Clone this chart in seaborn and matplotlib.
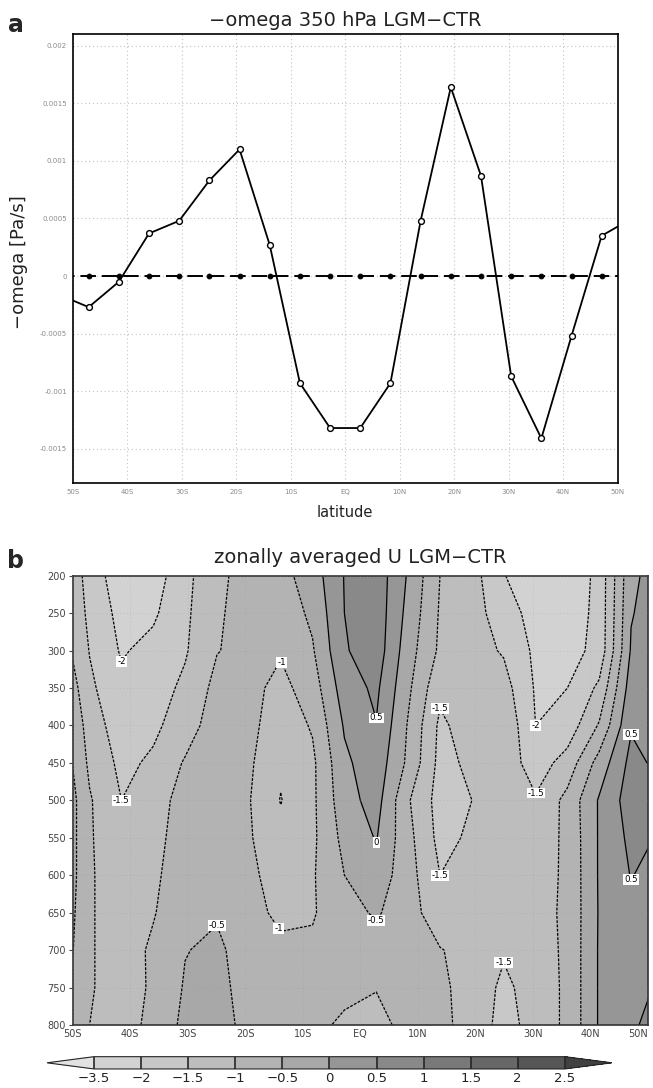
import numpy as np
import pandas as pd
import matplotlib
matplotlib.use("Agg")
import matplotlib.pyplot as plt
import seaborn as sns

# ---------------- data ----------------
# T21 Gaussian latitudes (deg), incl. one point beyond each plotted edge
lat_t21 = [-52.5975, -47.0645, -41.5299, -35.9942, -30.4576, -24.9204, -19.3827,
           -13.8445, -8.3057, -2.7689, 2.7689, 8.3057, 13.8445, 19.3827, 24.9204,
           30.4576, 35.9942, 41.5299, 47.0645, 52.5975]

# panel a: -omega at 350 hPa, LGM - CTR (Pa/s)
omega_350 = [-0.00016, -0.00027, -0.00005, 0.00037, 0.00048, 0.00083, 0.00110,
             0.00027, -0.00093, -0.00132, -0.00132, -0.00093, 0.00048, 0.00164,
             0.00087, -0.00087, -0.00141, -0.00052, 0.00035, 0.00050]
omega_zero = [0.0, 0.0, 0.0, 0.0, 0.0, 0.0, 0.0, 0.0, 0.0, 0.0,
              0.0, 0.0, 0.0, 0.0, 0.0, 0.0, 0.0, 0.0, 0.0, 0.0]

# panel b: zonally averaged U, LGM - CTR (m/s), one list per pressure level
plev = [200, 250, 300, 350, 400, 450, 500, 550, 600, 650, 700, 750, 800]
u_200 = [-0.64, -1.76, -2.25, -2.25, -1.65, -1.09, -0.85, -0.67, -0.25, 0.52, 0.80, -0.05, -1.00, -1.30, -1.98, -2.30, -2.40, -1.85, -0.10, 0.25]
u_250 = [-0.64, -1.64, -2.15, -2.08, -1.60, -1.05, -0.85, -0.80, -0.40, 0.50, 0.80, -0.15, -1.05, -1.30, -1.75, -2.20, -2.30, -1.85, -0.03, 0.28]
u_300 = [-0.63, -1.52, -2.05, -1.85, -1.55, -1.02, -0.85, -0.95, -0.55, 0.45, 0.78, -0.28, -1.09, -1.30, -1.55, -2.10, -2.20, -1.84, 0.05, 0.30]
u_350 = [-0.30, -1.40, -1.88, -1.72, -1.40, -0.85, -0.85, -1.15, -0.75, 0.25, 0.60, -0.40, -1.38, -1.28, -1.30, -2.05, -2.00, -1.40, 0.25, 0.35]
u_400 = [0.00, -1.25, -1.75, -1.60, -1.25, -0.72, -0.85, -1.30, -0.95, 0.05, 0.48, -0.54, -1.60, -1.25, -1.10, -2.00, -1.80, -0.95, 0.45, 0.30]
u_450 = [0.00, -1.10, -1.62, -1.42, -0.95, -0.75, -0.92, -1.42, -1.10, -0.10, 0.30, -0.60, -1.65, -1.40, -1.20, -1.75, -1.30, -0.30, 0.65, 0.35]
u_500 = [0.15, -0.95, -1.50, -1.15, -0.87, -0.75, -0.97, -1.52, -1.10, -0.20, 0.20, -0.95, -1.70, -1.50, -1.30, -1.45, -0.85, 0.05, 0.75, 0.70]
u_550 = [0.15, -0.95, -1.35, -1.10, -0.85, -0.78, -0.95, -1.35, -1.10, -0.35, 0.03, -0.85, -1.65, -1.42, -1.25, -1.30, -0.89, 0.05, 0.62, 0.45]
u_600 = [0.15, -0.95, -1.25, -1.05, -0.85, -0.80, -0.90, -1.20, -1.05, -0.50, -0.20, -0.80, -1.50, -1.30, -1.20, -1.25, -0.90, 0.05, 0.52, 0.30]
u_650 = [0.05, -0.96, -1.20, -1.02, -0.80, -0.55, -0.85, -1.10, -1.05, -0.65, -0.45, -0.75, -1.35, -1.25, -1.20, -1.20, -0.90, 0.04, 0.35, 0.30]
u_700 = [-0.05, -0.97, -1.15, -0.95, -0.52, -0.40, -0.75, -0.90, -0.90, -0.75, -0.70, -0.80, -0.97, -1.20, -1.45, -1.25, -0.90, 0.05, 0.30, 0.40]
u_750 = [-0.30, -0.98, -1.10, -0.97, -0.45, -0.35, -0.70, -0.85, -0.85, -0.85, -0.98, -0.85, -0.90, -1.20, -1.60, -1.30, -0.90, 0.05, 0.40, 0.55]
u_800 = [-0.40, -1.00, -1.08, -0.95, -0.35, -0.30, -0.65, -0.80, -0.85, -1.10, -1.15, -0.85, -0.90, -1.15, -1.70, -1.30, -0.90, 0.05, 0.40, 0.80]

# axis ticks / labels
lat_ticks = [-50, -40, -30, -20, -10, 0, 10, 20, 30, 40, 50]
lat_labels = ["50S", "40S", "30S", "20S", "10S", "EQ", "10N", "20N", "30N", "40N", "50N"]
omega_ticks = [-0.0015, -0.001, -0.0005, 0, 0.0005, 0.001, 0.0015, 0.002]
omega_labels = ["-0.0015", "-0.001", "-0.0005", "0", "0.0005", "0.001", "0.0015", "0.002"]
p_labels = ["200", "250", "300", "350", "400", "450", "500", "550", "600", "650", "700", "750", "800"]

# shading / contour levels
u_levels = [-3.5, -2, -1.5, -1, -0.5, 0, 0.5, 1, 1.5, 2, 2.5]
u_level_labels = ["\u22123.5", "\u22122", "\u22121.5", "\u22121", "\u22120.5", "0", "0.5", "1", "1.5", "2", "2.5"]
line_levels = [-2, -1.5, -1, -0.5, 0, 0.5]
shade_colors = ["#e2e2e2", "#d2d2d2", "#c8c8c8", "#bdbdbd", "#b3b3b3", "#a8a8a8",
                "#969696", "#898989", "#797979", "#676767", "#565656", "#414141"]

# contour label anchor spots (lat, hPa) -- layout only
label_spots = [(-41.5, 322), (30.5, 405),
               (-41.5, 505), (13.85, 372), (13.85, 600), (30.5, 490), (24.9, 711),
               (-13.85, 316), (-13.85, 669),
               (-24.9, 666), (2.77, 665),
               (2.77, 560),
               (2.77, 390), (47.06, 410), (47.06, 606)]

# ---------------- style ----------------
sns.set_theme(style="white")
plt.rcParams["font.family"] = ["DejaVu Sans"]
plt.rcParams["axes.unicode_minus"] = True

fig = plt.figure(figsize=(6.53, 10.88), dpi=100)
fig.patch.set_facecolor("white")

# ---------------- panel a ----------------
ax1 = fig.add_axes([0.1113, 0.5558, 0.8346, 0.4127])
df_a = pd.DataFrame({"lat": lat_t21, "omega": omega_350, "zero": omega_zero})
sns.lineplot(data=df_a, x="lat", y="zero", ax=ax1, color="black", linewidth=1.4,
             linestyle=(0, (8, 3)), marker="o", markersize=3.4,
             markerfacecolor="black", markeredgecolor="black", zorder=3)
sns.lineplot(data=df_a, x="lat", y="omega", ax=ax1, color="black", linewidth=1.3,
             marker="o", markersize=4.2, markerfacecolor="white",
             markeredgecolor="black", markeredgewidth=1.0, zorder=4)
ax1.set_xlim(-50, 50)
ax1.set_ylim(-0.0018, 0.0021)
ax1.set_xticks(lat_ticks, lat_labels)
ax1.set_yticks(omega_ticks, omega_labels)
ax1.tick_params(length=0, labelsize=5, labelcolor="#8a8a8a", pad=4)
ax1.grid(True, color="#c4c4c4", linestyle=(0, (1, 2.5)), linewidth=0.8)
ax1.set_axisbelow(True)
ax1.set_xlabel("")
ax1.set_ylabel("")
for sp in ax1.spines.values():
    sp.set_color("black")
    sp.set_linewidth(1.2)

fig.text(0.528, 0.9816, "\u2212omega 350 hPa LGM\u2212CTR", ha="center", va="center",
         fontsize=14, color="#222222")
fig.text(0.528, 0.5285, "latitude", ha="center", va="center", fontsize=10.5, color="#222222")
fig.text(0.029, 0.759, "\u2212omega [Pa/s]", ha="center", va="center", rotation=90,
         fontsize=13, color="#222222")
fig.text(0.0245, 0.977, "a", ha="center", va="center", fontsize=17, fontweight="bold")

# ---------------- panel b ----------------
ax2 = fig.add_axes([0.1113, 0.0579, 0.8810, 0.4130])
U = np.array([u_200, u_250, u_300, u_350, u_400, u_450, u_500,
              u_550, u_600, u_650, u_700, u_750, u_800])
cf = ax2.contourf(lat_t21, plev, U, levels=u_levels, colors=shade_colors, extend="both")
cs = ax2.contour(lat_t21, plev, U, levels=line_levels, colors="black", linewidths=0.9,
                 linestyles=[(0, (2.2, 1.2)) if lv < 0 else "solid" for lv in line_levels])
ax2.clabel(cs, manual=label_spots, inline=False, fontsize=6.2, fmt=lambda v: f"{v:g}")
for t in cs.labelTexts:
    t.set_rotation(0)
    t.set_color("black")
    t.set_bbox(dict(facecolor="white", edgecolor="none", pad=0.6))

ax2.set_xlim(-50, 50)
ax2.set_ylim(800, 200)
ax2.set_xticks(lat_ticks, lat_labels)
ax2.set_yticks(plev, p_labels)
ax2.get_xticklabels()[-1].set_horizontalalignment("right")
ax2.tick_params(axis="y", length=3, width=0.8, direction="out", labelsize=7,
                labelcolor="#444444", color="#444444", pad=2, left=True)
ax2.tick_params(axis="x", length=0, labelsize=7, labelcolor="#444444", pad=3)
ax2.grid(True, color="#8c8c8c", linestyle=(0, (1, 3)), linewidth=0.6, alpha=0.35)
ax2.set_axisbelow(False)
for sp in ax2.spines.values():
    sp.set_color("#333333")
    sp.set_linewidth(1.2)

fig.text(0.5513, 0.488, "zonally averaged U LGM\u2212CTR", ha="center", va="center",
         fontsize=14, color="#222222")
fig.text(0.0245, 0.4844, "b", ha="center", va="center", fontsize=17, fontweight="bold")

# ---------------- colorbar ----------------
cax = fig.add_axes([0.072, 0.0175, 0.865, 0.0113])
cb = fig.colorbar(cf, cax=cax, orientation="horizontal", ticks=u_levels,
                  extendfrac=0.1, drawedges=True)
cb.set_ticklabels(u_level_labels)
cb.ax.tick_params(length=0, labelsize=9.5, pad=2, labelcolor="#222222")
cb.outline.set_linewidth(0.8)
cb.dividers.set_linewidth(1.2)

fig.savefig("out.png", dpi=100, facecolor="white")
